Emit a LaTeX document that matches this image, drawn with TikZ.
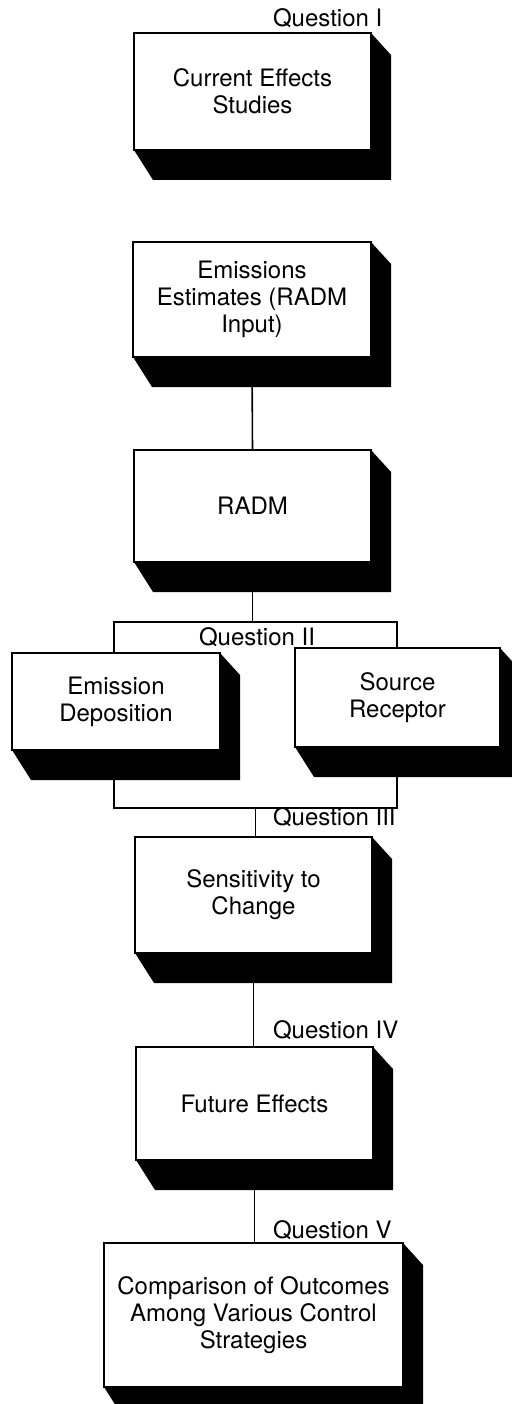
\documentclass[tikz,border=0pt]{standalone}
\usepackage{fontspec}
\setmainfont{TeX Gyre Heros}
\usetikzlibrary{calc}
\pgfdeclarelayer{bg}
\pgfdeclarelayer{mid}
\pgfsetlayers{bg,mid,main}
\tikzset{
  panel/.style={draw, line width=1.6pt, fill=white, inner sep=0pt, outer sep=0pt,
    align=center, font=\fontsize{24}{27}\selectfont},
  qlabel/.style={anchor=base west, inner sep=0pt, outer sep=0pt,
    font=\fontsize{24}{27}\selectfont},
  link/.style={line width=1.6pt},
  shade/.style={fill=black}
}
\newcommand\dropshade[1]{%
  \begin{pgfonlayer}{mid}
  \fill[shade] (#1.north east) -- ($(#1.north east)+(20,22)$) -- ($(#1.south east)+(20,30)$)
    -- ($(#1.south west)+(19,30)$) -- (#1.south west) -- cycle;
  \end{pgfonlayer}}
\begin{document}
\begin{tikzpicture}[x=1pt,y=-1pt]
\useasboundingbox (0,0) rectangle (511,1404);

\node[panel, minimum width=237, minimum height=117] (cur) at (252.5,91.5) {Current Effects\\Studies};
\node[panel, minimum width=238, minimum height=115] (emis) at (252,299.5) {Emissions\\Estimates (RADM\\Input)};
\node[panel, minimum width=237, minimum height=112] (radm) at (252.5,506) {RADM};
\node[panel, minimum width=208, minimum height=97] (edep) at (116,701.5) {Emission\\Deposition};
\node[panel, minimum width=205, minimum height=99] (srec) at (397.5,697.5) {Source\\Receptor};
\node[panel, minimum width=237, minimum height=116] (sens) at (253.5,895) {Sensitivity to\\Change};
\node[panel, minimum width=237, minimum height=113] (fut) at (254.5,1103.5) {Future Effects};
\node[panel, minimum width=299, minimum height=144] (comp) at (253.5,1315) {Comparison of Outcomes\\Among Various Control\\Strategies};

\foreach \n in {cur,emis,radm,edep,srec,sens,fut,comp} {\dropshade{\n}}

\begin{pgfonlayer}{bg}
\node[draw, line width=1.6pt, inner sep=0pt, outer sep=0pt, minimum width=283, minimum height=186] (frame) at (255.5,715) {};
\draw[link] (emis.south) -- (radm.north);
\draw[link] (radm.south) -- (radm.south |- frame.north);
\draw[link] (frame.south) -- (frame.south |- sens.north);
\draw[link] (sens.south) -- (sens.south |- fut.north);
\draw[link] (fut.south) -- (fut.south |- comp.north);
\end{pgfonlayer}

\node[qlabel] (q1) at (273,27) {Question I};
\node[qlabel] (q2) at (199,645) {Question II};
\node[qlabel] (q3) at (273,825) {Question III};
\node[qlabel] (q4) at (273,1038) {Question IV};
\node[qlabel] (q5) at (273,1238) {Question V};
\end{tikzpicture}
\end{document}
